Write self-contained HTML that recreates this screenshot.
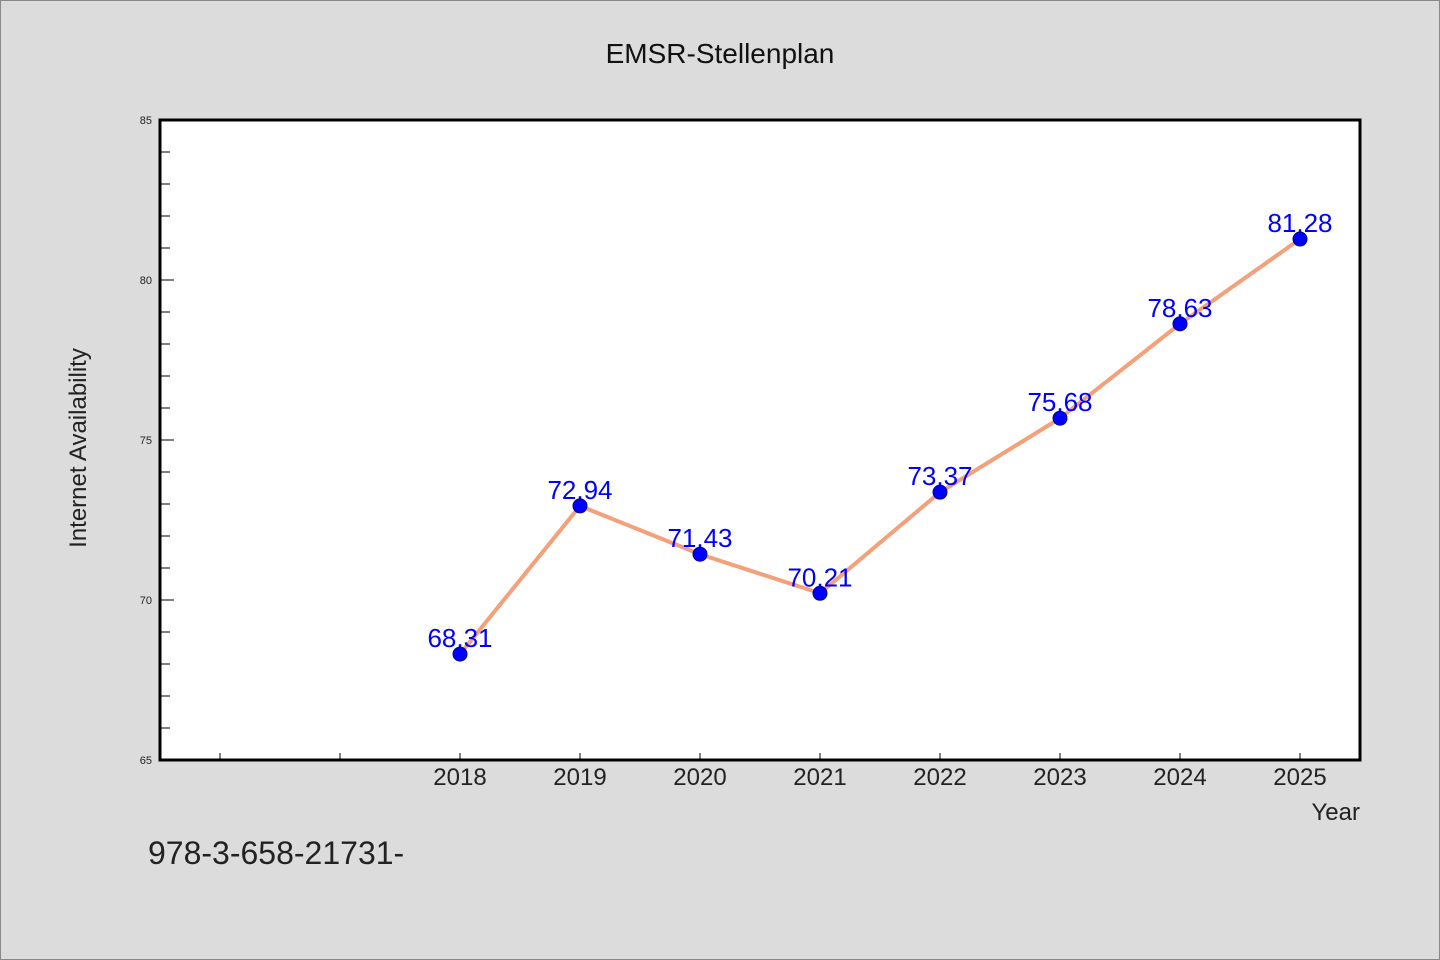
<!DOCTYPE html>
<html><head><meta charset="utf-8"><style>
html,body{margin:0;padding:0;background:#dcdcdc;}
svg{display:block;font-family:"WenQuanYi Zen Hei","Liberation Sans",sans-serif;}
</style></head><body>
<svg id="chart" width="1440" height="960" xmlns="http://www.w3.org/2000/svg">
<rect x="0.5" y="0.5" width="1439" height="959" fill="#dcdcdc" stroke="#888"/>
<text x="720" y="63" text-anchor="middle" font-size="28" fill="#111">EMSR-Stellenplan</text>
<rect x="160" y="120" width="1200" height="640" fill="#fff"/>
<g id="ticks"></g>
<g id="series"></g>
<rect x="160" y="120" width="1200" height="640" fill="none" stroke="#000" stroke-width="3"/>
<text x="86" y="448" text-anchor="middle" font-size="24" fill="#222" transform="rotate(-90 86 448)">Internet Availability</text>
<text x="1360" y="820" text-anchor="end" font-size="24" fill="#222">Year</text>
<text x="148" y="864" font-size="32" fill="#222">978-3-658-21731-</text>
</svg>
<script>
const categories = [2018, 2019, 2020, 2021, 2022, 2023, 2024, 2025];
const values = [68.31, 72.94, 71.43, 70.21, 73.37, 75.68, 78.63, 81.28];
const yTickLabels = [65, 70, 75, 80, 85];
const xTickYears = [2016, 2017, 2018, 2019, 2020, 2021, 2022, 2023, 2024, 2025];

const NS = "http://www.w3.org/2000/svg";
const X0 = 160, X1 = 1360, Y0 = 760, Y1 = 120;
const xMin = 2015.5, xMax = 2025.5, yMin = 65, yMax = 85;
const xs = v => X0 + (v - xMin) / (xMax - xMin) * (X1 - X0);
const ys = v => Y0 - (v - yMin) / (yMax - yMin) * (Y0 - Y1);
function mk(tag, attrs, parent) {
  const e = document.createElementNS(NS, tag);
  for (const k in attrs) e.setAttribute(k, attrs[k]);
  parent.appendChild(e);
  return e;
}
const ticks = document.getElementById('ticks');
for (let v = yMin; v <= yMax; v += 1) {
  const major = (v % 5 === 0);
  const t = mk('line', {x1: X0, x2: X0 + (major ? 14 : 10), y1: ys(v), y2: ys(v), stroke: '#000', 'stroke-width': 1}, ticks);
  
  
}
yTickLabels.forEach(v => {
  const t = mk('text', {x: X0 - 8, y: ys(v) + 4, 'text-anchor': 'end', 'font-size': 11, fill: '#222'}, ticks);
  t.textContent = v;
  
  
});
xTickYears.forEach(v => {
  const t = mk('line', {x1: xs(v), x2: xs(v), y1: Y0, y2: Y0 - 7, stroke: '#000', 'stroke-width': 1}, ticks);
  
  
});
categories.forEach(v => {
  const t = mk('text', {x: xs(v), y: 785, 'text-anchor': 'middle', 'font-size': 24, fill: '#222'}, ticks);
  t.textContent = v;
  
  
});
const series = document.getElementById('series');
const pts = categories.map((c, i) => xs(c) + ',' + ys(values[i])).join(' ');
const line = mk('polyline', {points: pts, fill: 'none', stroke: '#f4a07a', 'stroke-width': 4, 'stroke-linejoin': 'round'}, series);


categories.forEach((c, i) => {
  const p = mk('circle', {cx: xs(c), cy: ys(values[i]), r: 7, fill: '#0000ff', stroke: '#00008b', 'stroke-width': 1}, series);
  
  
  const l = mk('text', {x: xs(c), y: ys(values[i]) - 7, 'text-anchor': 'middle', 'font-size': 26, fill: '#0000ff'}, series);
  l.textContent = values[i].toFixed(2);
  
  
});
</script>
</body></html>
